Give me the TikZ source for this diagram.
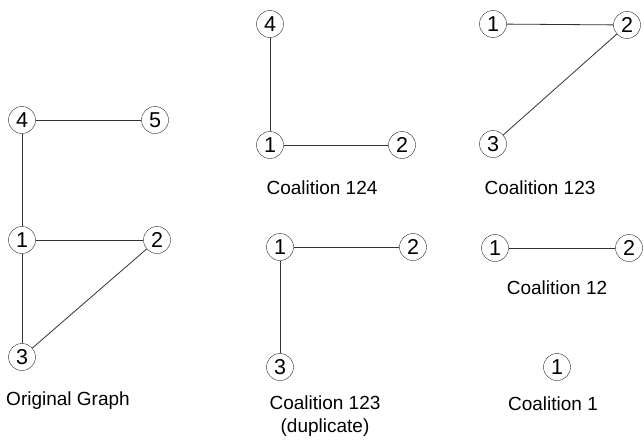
\documentclass[tikz,border=0pt]{standalone}
\usepackage{fontspec}
\setmainfont{Liberation Sans}
\usetikzlibrary{positioning}
\tikzset{
	player/.style={draw=black!85, circle, minimum size=27pt, inner sep=0pt, font=\fontsize{21.5}{24}\selectfont},
	link/.style={line width=0.8pt, color=black!80},
	caption/.style={align=center, font=\fontsize{19}{23}\selectfont}
}

\begin{document}
\begin{tikzpicture}[x=1pt, y=-1pt]
			%%%%% START %%%%%
			\useasboundingbox (0, 0) rectangle (644, 439);
			
			% original graph
			\node[player] (o4) at (22, 120) {4};
			\node[player] (o5) at (155, 120) {5};
			\node[player] (o1) at (22, 240) {1};
			\node[player] (o2) at (157, 240) {2};
			\node[player] (o3) at (22, 357) {3};
			\draw[link] (o4) -- (o5);
			\draw[link] (o4) -- (o1);
			\draw[link] (o1) -- (o2);
			\draw[link] (o1) -- (o3);
			\draw[link] (o3) -- (o2);
			\node[caption] (oname) at (68, 401) {Original Graph};
			
			% coalition 124
			\node[player] (a4) at (270, 24) {4};
			\node[player] (a1) at (270, 145) {1};
			\node[player] (a2) at (402, 145) {2};
			\draw[link] (a4) -- (a1);
			\draw[link] (a1) -- (a2);
			\node[caption] (aname) at (322, 188) {Coalition 124};
			
			% coalition 123
			\node[player] (b1) at (493, 24) {1};
			\node[player] (b2) at (627, 25) {2};
			\node[player] (b3) at (493, 144) {3};
			\draw[link] (b1) -- (b2);
			\draw[link] (b3) -- (b2);
			\node[caption] (bname) at (540, 188) {Coalition 123};
			
			% coalition 123, again
			\node[player] (c1) at (280, 247) {1};
			\node[player] (c2) at (413, 247) {2};
			\node[player] (c3) at (280, 367) {3};
			\draw[link] (c1) -- (c2);
			\draw[link] (c1) -- (c3);
			\node[caption] (cname) at (325, 416) {Coalition 123\\(duplicate)};
			
			% coalition 12
			\node[player] (d1) at (495, 248) {1};
			\node[player] (d2) at (629, 248) {2};
			\draw[link] (d1) -- (d2);
			\node[caption] (dname) at (557, 288) {Coalition 12};
			
			% coalition 1
			\node[player] (e1) at (557, 367) {1};
			\node[caption] (ename) at (553, 404) {Coalition 1};
			%%%%% END %%%%%
\end{tikzpicture}
\end{document}
